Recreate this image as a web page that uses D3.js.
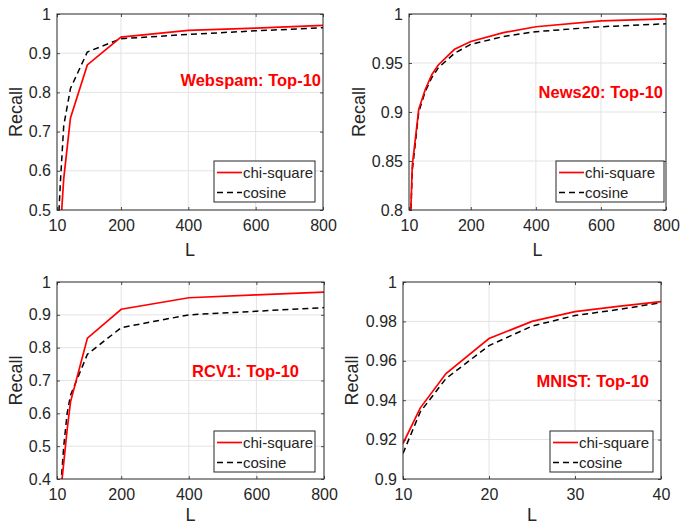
<!DOCTYPE html>
<html>
<head>
<meta charset="utf-8">
<script src="https://cdn.jsdelivr.net/npm/d3@7"></script>
<style>
  body { margin: 0; background: #ffffff; }
  svg { display: block; font-family: "Liberation Sans", Arial, Helvetica, sans-serif; }
  .grid line { stroke: #e3e3e3; stroke-width: 1; }
  .tick-label { fill: #262626; font-size: 16px; }
</style>
</head>
<body>
<div id="chart"></div>
<script>
// values
const webspamL = [10, 20, 30, 50, 100, 200, 400, 600, 800];
const webspamChi = [0.30, 0.447, 0.58, 0.735, 0.870, 0.941, 0.958, 0.964, 0.971];
const webspamCos = [0.395, 0.57, 0.715, 0.81, 0.903, 0.937, 0.948, 0.957, 0.965];

const news20L = [10, 20, 40, 60, 80, 100, 150, 200, 300, 400, 600, 800];
const news20Chi = [0.74, 0.845, 0.903, 0.923, 0.938, 0.948, 0.964, 0.972, 0.981, 0.987, 0.993, 0.995];
const news20Cos = [0.74, 0.840, 0.900, 0.921, 0.935, 0.945, 0.960, 0.969, 0.977, 0.982, 0.987, 0.990];

const rcv1L = [10, 20, 30, 40, 50, 100, 200, 400, 600, 800];
const rcv1Chi = [0.2, 0.35, 0.45, 0.55, 0.635, 0.829, 0.917, 0.952, 0.961, 0.969];
const rcv1Cos = [0.2, 0.36, 0.5, 0.6, 0.655, 0.78, 0.861, 0.9, 0.911, 0.922];

const mnistL = [10, 12, 15, 20, 25, 30, 35, 40];
const mnistChi = [0.918, 0.936, 0.9535, 0.9713, 0.980, 0.985, 0.9876, 0.990];
const mnistCos = [0.913, 0.934, 0.951, 0.9677, 0.9776, 0.983, 0.986, 0.9895];

const seriesNames = ["chi-square", "cosine"];

const bigXTicks = [10, 200, 400, 600, 800];
const smallXTicks = [10, 20, 30, 40];

const panels = [
  {
    title: "Webspam: Top-10", L: webspamL, chi: webspamChi, cos: webspamCos,
    xDomain: [10, 800], xTicks: bigXTicks,
    yDomain: [0.5, 1], yTicks: [0.5, 0.6, 0.7, 0.8, 0.9, 1],
    box: { left: 57, right: 323, top: 14, bottom: 210 },
    ylabelOffset: 35, xlabelOffset: 46,
    titlePos: { x: 321, y: 86, anchor: "end" },
    legend: { x: 214, y: 161, w: 101, h: 41 }
  },
  {
    title: "News20: Top-10", L: news20L, chi: news20Chi, cos: news20Cos,
    xDomain: [10, 800], xTicks: bigXTicks,
    yDomain: [0.8, 1], yTicks: [0.8, 0.85, 0.9, 0.95, 1],
    box: { left: 409, right: 666, top: 14, bottom: 210 },
    ylabelOffset: 44, xlabelOffset: 46,
    titlePos: { x: 663, y: 98, anchor: "end" },
    legend: { x: 556, y: 161, w: 108, h: 41 }
  },
  {
    title: "RCV1: Top-10", L: rcv1L, chi: rcv1Chi, cos: rcv1Cos,
    xDomain: [10, 800], xTicks: bigXTicks,
    yDomain: [0.4, 1], yTicks: [0.4, 0.5, 0.6, 0.7, 0.8, 0.9, 1],
    box: { left: 57, right: 324, top: 282, bottom: 479 },
    ylabelOffset: 35, xlabelOffset: 42,
    titlePos: { x: 299, y: 377, anchor: "end" },
    legend: { x: 214, y: 431, w: 101, h: 41 }
  },
  {
    title: "MNIST: Top-10", L: mnistL, chi: mnistChi, cos: mnistCos,
    xDomain: [10, 40], xTicks: smallXTicks,
    yDomain: [0.9, 1], yTicks: [0.9, 0.92, 0.94, 0.96, 0.98, 1],
    box: { left: 403, right: 661, top: 282, bottom: 479 },
    ylabelOffset: 45, xlabelOffset: 42,
    titlePos: { x: 649, y: 387, anchor: "end" },
    legend: { x: 550, y: 431, w: 103, h: 41 }
  }
];

const width = 680;
const height = 527;

const svg = d3.select("#chart")
  .append("svg")
  .attr("width", width)
  .attr("height", height);

const defs = svg.append("defs");

panels.forEach((p, i) => {
  const b = p.box;
  const w = b.right - b.left;
  const h = b.bottom - b.top;

  const x = d3.scaleLinear().domain(p.xDomain).range([0, w]);
  const y = d3.scaleLinear().domain(p.yDomain).range([h, 0]);

  const g = svg.append("g").attr("transform", `translate(${b.left}, ${b.top})`);

  // grid
  const grid = g.append("g").attr("class", "grid");
  grid.selectAll(".gx")
    .data(p.xTicks.slice(1, -1))
    .enter()
    .append("line")
    .attr("x1", d => x(d)).attr("x2", d => x(d))
    .attr("y1", 0).attr("y2", h);
  grid.selectAll(".gy")
    .data(p.yTicks.slice(1, -1))
    .enter()
    .append("line")
    .attr("x1", 0).attr("x2", w)
    .attr("y1", d => y(d)).attr("y2", d => y(d));

  // lines
  defs.append("clipPath")
    .attr("id", `clip${i}`)
    .append("rect")
    .attr("width", w)
    .attr("height", h);

  const line = d3.line()
    .x(d => x(d[0]))
    .y(d => y(d[1]));

  const plot = g.append("g").attr("clip-path", `url(#clip${i})`);

  plot.append("path")
    .datum(p.L.map((l, k) => [l, p.cos[k]]))
    .attr("fill", "none")
    .attr("stroke", "#000000")
    .attr("stroke-width", 1.5)
    .attr("stroke-dasharray", "6,4")
    .attr("d", line);

  plot.append("path")
    .datum(p.L.map((l, k) => [l, p.chi[k]]))
    .attr("fill", "none")
    .attr("stroke", "#ff0000")
    .attr("stroke-width", 1.7)
    .attr("d", line);

  // axes: inward ticks, box frame
  const xAxis = g.append("g")
    .attr("transform", `translate(0, ${h})`)
    .call(d3.axisBottom(x).tickValues(p.xTicks).tickSize(-3).tickPadding(10).tickFormat(d3.format("d")));
  const yAxis = g.append("g")
    .call(d3.axisLeft(y).tickValues(p.yTicks).tickSize(-3).tickPadding(6).tickFormat(d => String(+d.toFixed(3))));

  [xAxis, yAxis].forEach(ax => {
    ax.select(".domain").remove();
    ax.selectAll(".tick line").attr("stroke", "#262626").attr("stroke-width", 0.8);
    ax.selectAll(".tick text")
      .attr("class", "tick-label")
      .attr("fill", "#262626")
      .style("font-size", "16px")
      .style("font-family", "'Liberation Sans', Arial, sans-serif");
  });

  g.append("g")
    .attr("transform", `translate(${w}, 0)`)
    .call(d3.axisLeft(y).tickValues(p.yTicks).tickSize(3).tickFormat(""))
    .call(ax => ax.select(".domain").remove())
    .selectAll(".tick line").attr("stroke", "#262626").attr("stroke-width", 0.8);

  g.append("g")
    .call(d3.axisBottom(x).tickValues(p.xTicks).tickSize(3).tickFormat(""))
    .call(ax => ax.select(".domain").remove())
    .selectAll(".tick line").attr("stroke", "#262626").attr("stroke-width", 0.8);

  g.append("rect")
    .attr("width", w)
    .attr("height", h)
    .attr("fill", "none")
    .attr("stroke", "#262626")
    .attr("stroke-width", 1);

  // axis titles
  g.append("text")
    .attr("x", w / 2)
    .attr("y", h + p.xlabelOffset)
    .attr("text-anchor", "middle")
    .attr("fill", "#262626")
    .attr("font-size", "18px")
    .text("L");

  g.append("text")
    .attr("transform", `translate(${-p.ylabelOffset}, ${h / 2}) rotate(-90)`)
    .attr("text-anchor", "middle")
    .attr("fill", "#262626")
    .attr("font-size", "18px")
    .text("Recall");

  // dataset annotation
  svg.append("text")
    .attr("x", p.titlePos.x)
    .attr("y", p.titlePos.y)
    .attr("text-anchor", p.titlePos.anchor)
    .attr("fill", "#ff0000")
    .attr("font-size", "16.5px")
    .attr("font-weight", "bold")
    .text(p.title);

  // legend
  const lg = svg.append("g").attr("transform", `translate(${p.legend.x}, ${p.legend.y})`);
  lg.append("rect")
    .attr("width", p.legend.w)
    .attr("height", p.legend.h)
    .attr("fill", "#ffffff")
    .attr("stroke", "#262626")
    .attr("stroke-width", 1);

  seriesNames.forEach((name, k) => {
    const ly = 11.5 + k * 20;
    lg.append("line")
      .attr("x1", 3).attr("x2", 28)
      .attr("y1", ly).attr("y2", ly)
      .attr("stroke", k === 0 ? "#ff0000" : "#000000")
      .attr("stroke-width", k === 0 ? 1.7 : 1.5)
      .attr("stroke-dasharray", k === 0 ? null : "6,4");
    lg.append("text")
      .attr("x", 29)
      .attr("y", ly + 5.5)
      .attr("fill", "#262626")
      .attr("font-size", "15px")
      .text(name);
  });
});
</script>
</body>
</html>
